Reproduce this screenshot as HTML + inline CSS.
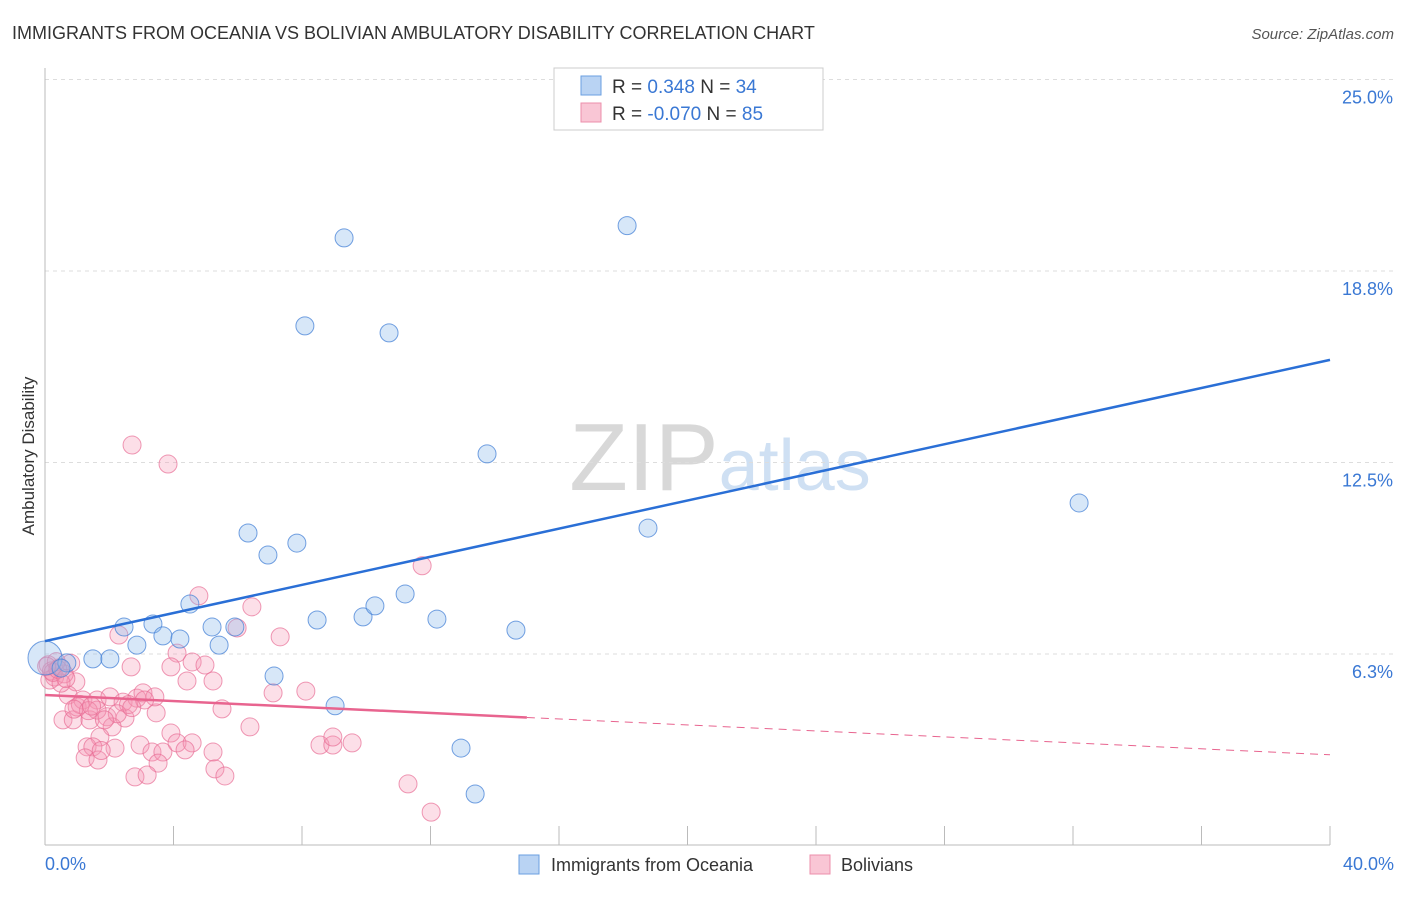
<!DOCTYPE html>
<html><head><meta charset="utf-8"><style>
body{margin:0;background:#fff;font-family:"Liberation Sans",sans-serif;}
svg text{font-family:"Liberation Sans",sans-serif;}
</style></head><body>
<svg id="chart" width="1406" height="892" viewBox="0 0 1406 892" xmlns="http://www.w3.org/2000/svg">
<text x="12" y="39" font-size="18" fill="#333">IMMIGRANTS FROM OCEANIA VS BOLIVIAN AMBULATORY DISABILITY CORRELATION CHART</text>
<text x="1394" y="39" font-size="15" fill="#555" font-style="italic" text-anchor="end">Source: ZipAtlas.com</text>
<text x="720" y="490" font-size="96" text-anchor="middle" fill="#ddd" font-family="Liberation Serif"><tspan fill="#d8d8d8">ZIP</tspan><tspan fill="#cfe0f3" font-family="Liberation Sans" font-size="72">atlas</tspan></text>
<g id="grid"></g>
<line x1="45" y1="68" x2="45" y2="845" stroke="#bbb"/>
<line x1="45" y1="845" x2="1330" y2="845" stroke="#bbb"/>
<g id="xticks"></g>
<text transform="translate(34,456) rotate(-90)" font-size="17" fill="#333" text-anchor="middle">Ambulatory Disability</text>
<text x="45" y="870" font-size="18" fill="#3a78d4">0.0%</text>
<text x="1394" y="870" font-size="18" fill="#3a78d4" text-anchor="end">40.0%</text>
<g id="pts"></g>
<g id="lines"></g>
<g>
<rect x="554" y="68" width="269" height="62" fill="#fff" stroke="#ccc"/>
<rect x="581" y="76" width="20" height="19" fill="#b9d3f3" stroke="#6a9fe0"/>
<rect x="581" y="103" width="20" height="19" fill="#f9c6d5" stroke="#ec8fab"/>
<text x="612" y="93" font-size="19" fill="#333">R =  <tspan fill="#3a78d4">  0.348</tspan>    N = <tspan fill="#3a78d4">34</tspan></text>
<text x="612" y="120" font-size="19" fill="#333">R = <tspan fill="#3a78d4">-0.070</tspan>    N = <tspan fill="#3a78d4">85</tspan></text>
</g>
<g>
<rect x="519" y="855" width="20" height="19" fill="#b9d3f3" stroke="#6a9fe0"/>
<text x="551" y="871" font-size="18" fill="#333">Immigrants from Oceania</text>
<rect x="810" y="855" width="20" height="19" fill="#f9c6d5" stroke="#ec8fab"/>
<text x="841" y="871" font-size="18" fill="#333">Bolivians</text>
</g>
</svg>
<script>
const yTicks=[6.25,12.5,18.75,25];
const yTickLabels=["6.3%","12.5%","18.8%","25.0%"];
const xTicks=[0,4,8,12,16,20,24,28,32,36,40];
const blueX=[0,0.68,1.49,2.02,2.46,2.86,3.36,3.67,4.20,4.51,5.20,5.42,5.91,6.32,6.94,7.13,7.84,8.09,8.47,9.03,9.31,9.90,10.27,10.71,11.21,12.20,12.95,13.39,13.76,14.66,18.12,18.77,32.19,0.50];
const blueY=[6.12,5.96,6.09,6.09,7.13,6.54,7.23,6.84,6.74,7.88,7.13,6.54,7.13,10.20,9.48,5.53,9.87,16.96,7.36,4.56,19.83,7.46,7.82,16.73,8.21,7.39,3.18,1.68,12.78,7.03,20.23,10.36,11.18,5.79];
const pinkX=[2.71,3.83,4.79,6.44,11.74,5.98,7.32,2.30,2.68,4.11,4.58,4.98,3.92,4.42,5.23,0.96,7.10,8.12,5.51,3.46,6.38,0.72,0.56,0.88,1.40,1.93,2.49,2.09,1.71,1.00,1.18,1.62,2.02,2.43,2.86,3.05,3.42,1.62,1.31,1.49,1.25,1.65,2.18,2.96,3.33,3.67,3.52,2.80,3.18,3.92,4.11,4.58,4.36,5.23,5.29,5.60,8.56,8.96,8.96,9.56,11.30,12.02,0.1,0.2,0.3,0.45,0.6,0.15,0.8,0.35,0.5,0.25,1.1,1.35,2.6,2.25,1.85,0.9,3.1,1.45,2.7,0.4,0.05,0.65,1.75];
const pinkY=[13.07,12.45,8.15,7.79,9.13,7.10,6.81,6.87,5.83,6.28,5.99,5.89,5.83,5.37,5.37,5.34,4.98,5.04,4.46,4.33,3.87,4.91,4.10,4.10,4.10,4.20,4.16,3.87,3.54,4.52,4.75,4.75,4.85,4.68,4.81,4.98,4.85,4.42,3.22,3.22,2.86,2.79,3.18,3.28,3.05,3.05,2.69,2.24,2.30,3.67,3.35,3.35,3.12,3.05,2.50,2.27,3.28,3.28,3.54,3.35,2.01,1.09,5.9,5.7,5.5,5.8,5.6,5.4,5.95,6.0,5.3,5.65,4.6,4.4,4.6,4.3,4.1,4.45,4.75,4.55,4.5,5.75,5.85,5.45,3.1];
const blueTrend=[6.67,15.85];
const pinkTrend=[4.91,2.96];
const pinkSolidEnd=15;
const X=v=>45+v/40*1285;
const Y=v=>845.5-v*30.64;
const NS="http://www.w3.org/2000/svg";
function mk(tag,attrs,parent){const e=document.createElementNS(NS,tag);for(const k in attrs)e.setAttribute(k,attrs[k]);parent.appendChild(e);return e;}
const grid=document.getElementById('grid');
yTicks.forEach((t,i)=>{
 const l=mk('line',{x1:45,x2:1394,y1:Y(t),y2:Y(t),stroke:'#ddd','stroke-dasharray':'4,4'},grid);
 
 
 const tx=mk('text',{x:1393,y:Y(t)+24,'font-size':18,fill:'#3a78d4','text-anchor':'end'},grid);
 tx.textContent=yTickLabels[i];
 
 
});
const xt=document.getElementById('xticks');
xTicks.forEach(t=>{
 const l=mk('line',{x1:X(t),x2:X(t),y1:826,y2:845,stroke:'#bbb'},xt);
 
 
});
const pts=document.getElementById('pts');
pinkX.forEach((x,i)=>{
 const c=mk('circle',{cx:X(x),cy:Y(pinkY[i]),r:9,fill:'rgba(244,150,178,0.3)',stroke:'rgba(232,110,150,0.7)','stroke-width':1},pts);
 
 
});
blueX.forEach((x,i)=>{
 const c=mk('circle',{cx:X(x),cy:Y(blueY[i]),r:i===0?17:9,fill:'rgba(140,185,235,0.35)',stroke:'rgba(70,130,215,0.75)','stroke-width':1},pts);
 
 
});
const lines=document.getElementById('lines');
const bl=mk('line',{x1:X(0),y1:Y(blueTrend[0]),x2:X(40),y2:Y(blueTrend[1]),stroke:'#2a6fd6','stroke-width':2.5},lines);


const pm=pinkTrend[0]+(pinkTrend[1]-pinkTrend[0])*pinkSolidEnd/40;
const pl=mk('line',{x1:X(0),y1:Y(pinkTrend[0]),x2:X(pinkSolidEnd),y2:Y(pm),stroke:'#e8648f','stroke-width':2.5},lines);


const pd=mk('line',{x1:X(pinkSolidEnd),y1:Y(pm),x2:X(40),y2:Y(pinkTrend[1]),stroke:'#e8648f','stroke-width':1,'stroke-dasharray':'8,6'},lines);


</script>
</body></html>
